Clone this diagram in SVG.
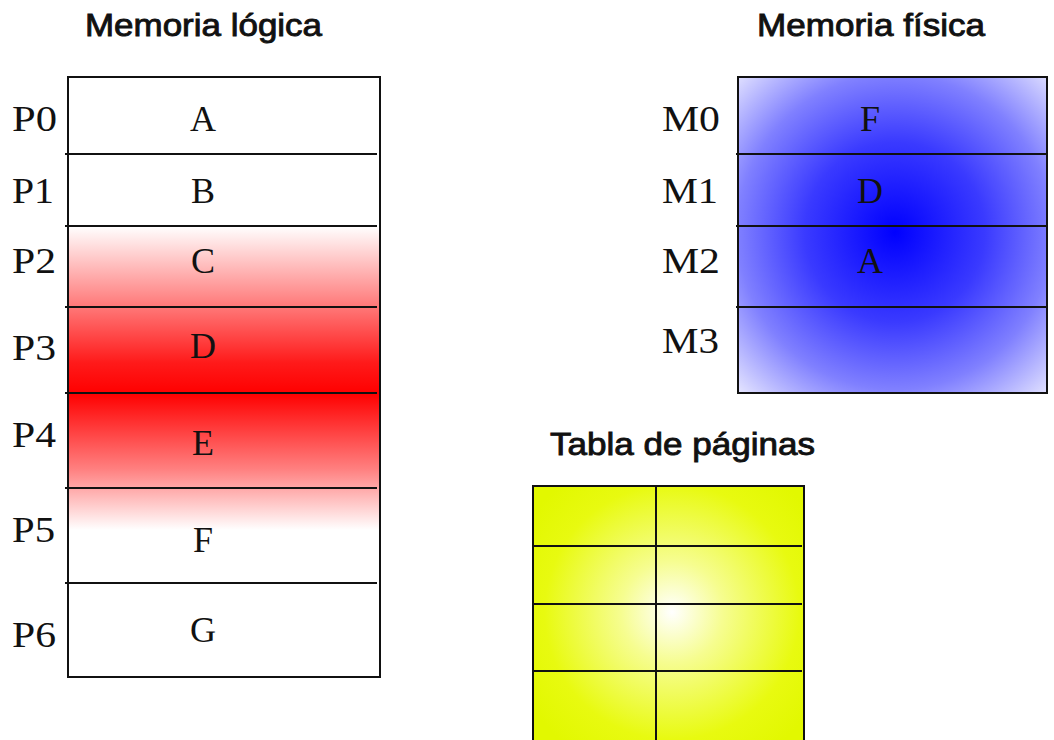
<svg xmlns="http://www.w3.org/2000/svg" width="1054" height="740" viewBox="0 0 1054 740">
<defs>
<linearGradient id="red" x1="0" y1="226" x2="0" y2="530" gradientUnits="userSpaceOnUse">
<stop offset="0" stop-color="#ffffff"/>
<stop offset="0.45" stop-color="#ff1a1a"/>
<stop offset="0.55" stop-color="#ff0000"/>
<stop offset="0.8" stop-color="#ff8080"/>
<stop offset="1" stop-color="#ffffff"/>
</linearGradient>
<radialGradient id="blue" cx="895" cy="232" r="225" gradientUnits="userSpaceOnUse">
<stop offset="0" stop-color="#0000ff"/>
<stop offset="0.4" stop-color="#3a3aff"/>
<stop offset="0.7" stop-color="#8080ff"/>
<stop offset="1" stop-color="#e6e6ff"/>
</radialGradient>
<radialGradient id="yellow" cx="672" cy="612" r="170" gradientUnits="userSpaceOnUse">
<stop offset="0" stop-color="#ffffff"/>
<stop offset="0.3" stop-color="#f6fd90"/>
<stop offset="0.75" stop-color="#e8fa10"/>
<stop offset="1" stop-color="#e2f800"/>
</radialGradient>
</defs>
<style>
.title{font-family:"Liberation Sans",Arial,sans-serif;font-size:32px;font-weight:normal;fill:#111;stroke:#111;stroke-width:0.9}
.lbl{font-family:"Liberation Serif","Times New Roman",serif;font-size:36px;fill:#111}
.cell{font-family:"Liberation Serif","Times New Roman",serif;font-size:36px;fill:#111;text-anchor:middle}
.box{stroke:#111;stroke-width:2;fill:none}
.div{stroke:#111;stroke-width:2}
</style>
<rect width="1054" height="740" fill="#ffffff"/>
<text class="title" x="85" y="36" textLength="237" lengthAdjust="spacingAndGlyphs">Memoria lógica</text>
<text class="title" x="757" y="36" textLength="228" lengthAdjust="spacingAndGlyphs">Memoria física</text>
<text class="title" x="550" y="455" textLength="265" lengthAdjust="spacingAndGlyphs">Tabla de páginas</text>

<g id="logical">
<rect x="68" y="77" width="312" height="600" fill="#ffffff"/>
<rect x="68" y="226" width="312" height="304" fill="url(#red)"/>
<rect class="box" x="68" y="77" width="312" height="600"/>
<line class="div" x1="65" y1="154" x2="377" y2="154"/>
<line class="div" x1="65" y1="226" x2="377" y2="226"/>
<line class="div" x1="65" y1="307" x2="377" y2="307"/>
<line class="div" x1="65" y1="393" x2="377" y2="393"/>
<line class="div" x1="65" y1="488" x2="377" y2="488"/>
<line class="div" x1="65" y1="583" x2="377" y2="583"/>
<text class="lbl" x="12" y="131" textLength="45" lengthAdjust="spacingAndGlyphs">P0</text>
<text class="lbl" x="12" y="203" textLength="42" lengthAdjust="spacingAndGlyphs">P1</text>
<text class="lbl" x="12" y="273" textLength="44" lengthAdjust="spacingAndGlyphs">P2</text>
<text class="lbl" x="12" y="360" textLength="44" lengthAdjust="spacingAndGlyphs">P3</text>
<text class="lbl" x="12" y="447" textLength="44" lengthAdjust="spacingAndGlyphs">P4</text>
<text class="lbl" x="12" y="542" textLength="43" lengthAdjust="spacingAndGlyphs">P5</text>
<text class="lbl" x="12" y="647" textLength="44" lengthAdjust="spacingAndGlyphs">P6</text>
<text class="cell" x="203" y="131">A</text>
<text class="cell" x="203" y="203">B</text>
<text class="cell" x="203" y="273">C</text>
<text class="cell" x="203" y="358">D</text>
<text class="cell" x="203" y="455">E</text>
<text class="cell" x="203" y="552">F</text>
<text class="cell" x="203" y="642">G</text>
</g>

<g id="physical">
<rect x="738" y="77" width="309" height="316" fill="url(#blue)"/>
<rect class="box" x="738" y="77" width="309" height="316"/>
<line class="div" x1="736" y1="154" x2="1047" y2="154"/>
<line class="div" x1="736" y1="226" x2="1047" y2="226"/>
<line class="div" x1="736" y1="307" x2="1047" y2="307"/>
<text class="lbl" x="662" y="131" textLength="58" lengthAdjust="spacingAndGlyphs">M0</text>
<text class="lbl" x="662" y="203" textLength="56" lengthAdjust="spacingAndGlyphs">M1</text>
<text class="lbl" x="662" y="273" textLength="58" lengthAdjust="spacingAndGlyphs">M2</text>
<text class="lbl" x="662" y="353" textLength="57" lengthAdjust="spacingAndGlyphs">M3</text>
<text class="cell" x="870" y="131">F</text>
<text class="cell" x="870" y="203">D</text>
<text class="cell" x="870" y="273">A</text>
</g>

<g id="pagetable">
<rect x="533" y="486" width="271" height="270" fill="url(#yellow)"/>
<rect class="box" x="533" y="486" width="271" height="270"/>
<line class="div" x1="656" y1="486" x2="656" y2="742"/>
<line class="div" x1="533" y1="546" x2="802" y2="546"/>
<line class="div" x1="533" y1="604" x2="802" y2="604"/>
<line class="div" x1="533" y1="671" x2="802" y2="671"/>
</g>
<g id="connectors"/>
</svg>
